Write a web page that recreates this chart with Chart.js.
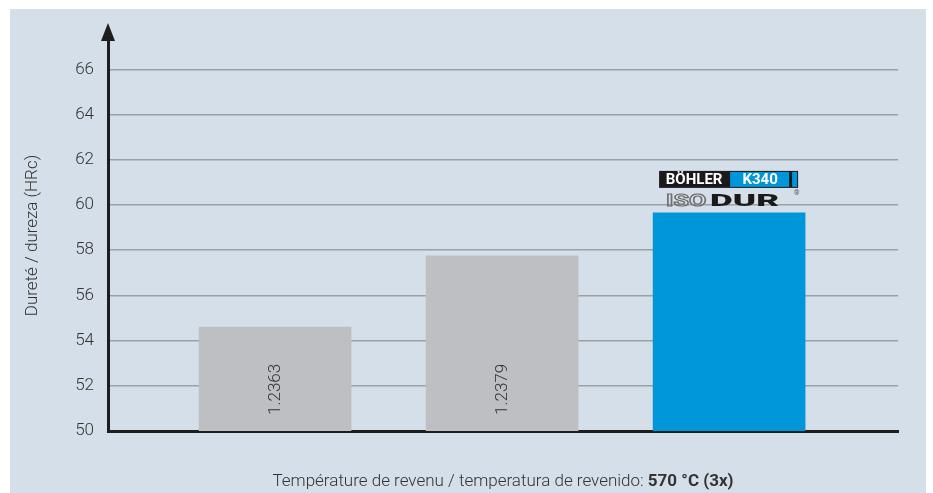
<!DOCTYPE html>
<html>
<head>
<meta charset="utf-8">
<script src="https://cdn.jsdelivr.net/npm/chart.js@4"></script>
<style>
  html, body { margin: 0; padding: 0; background: #fff; }
  #panel { position: absolute; left: 10px; top: 9px; width: 916px; height: 484px; background: #d5dfe9; }
</style>
</head>
<body>
<div id="panel"><canvas id="haerteChart" width="916" height="484"></canvas></div>
<script>
const steels = ["1.2363", "1.2379", "K340 ISODUR"];
const hardness = [54.6, 57.75, 59.65];
const barColors = ["#bebfc3", "#bebfc3", "#0096da"];
const yTicks = [50, 52, 54, 56, 58, 60, 62, 64, 66];
const yTitle = "Dureté / dureza (HRc)";
const xTitle = "Température de revenu / temperatura de revenido: ";
const xTitleBold = "570 °C (3x)";

const FONT = "Roboto";

// extra drawing: axis arrow, labels inside bars, logo, axis titles
const extras = {
  id: "extras",
  afterDraw(chart) {
    const { ctx, chartArea: a, scales: { x, y } } = chart;
    ctx.save();

    // arrow head on the y axis
    ctx.fillStyle = "#1e1e1e";
    ctx.beginPath();
    ctx.moveTo(a.left, a.top - 17);
    ctx.lineTo(a.left - 7, a.top + 1);
    ctx.lineTo(a.left + 7, a.top + 1);
    ctx.closePath();
    ctx.fill();

    // steel numbers inside the grey bars
    const base = y.getPixelForValue(50);
    ctx.fillStyle = "#333";
    ctx.font = "300 17px " + FONT;
    ctx.textAlign = "left";
    ctx.textBaseline = "middle";
    for (let i = 0; i < 2; i++) {
      ctx.save();
      ctx.translate(x.getPixelForValue(i + 1), base - 16);
      ctx.rotate(-Math.PI / 2);
      ctx.fillText(steels[i], 0, 1);
      ctx.restore();
    }

    // BÖHLER K340 / ISODUR logo over the blue bar
    const cx = x.getPixelForValue(3);
    const bt = y.getPixelForValue(hardness[2]);
    ctx.fillStyle = "#1a1a1a";
    ctx.fillRect(cx - 70, bt - 42, 139, 17);
    ctx.fillStyle = "#0096da";
    ctx.fillRect(cx + 1, bt - 41, 59, 15);
    ctx.fillRect(cx + 63, bt - 41, 5, 15);
    ctx.fillStyle = "#fff";
    ctx.font = "bold 15px " + FONT;
    ctx.textAlign = "center";
    ctx.fillText("BÖHLER", cx - 35, bt - 33);
    ctx.fillText("K340", cx + 31, bt - 33);

    ctx.textAlign = "left";
    ctx.textBaseline = "alphabetic";
    ctx.font = "bold 18px " + FONT;
    ctx.save();
    ctx.translate(cx - 63, bt - 7);
    ctx.scale(1.4, 0.95);
    ctx.strokeStyle = "#6e6e6e";
    ctx.lineWidth = 1.2;
    ctx.strokeText("ISO", 0, 0);
    ctx.restore();
    ctx.save();
    ctx.translate(cx - 19, bt - 7);
    ctx.font = "900 18px " + FONT;
    ctx.scale(1.95, 0.95);
    ctx.fillStyle = "#1a1a1a";
    ctx.fillText("DUR", 0, 0);
    ctx.restore();
    ctx.font = "7px " + FONT;
    ctx.fillStyle = "#555";
    ctx.fillText("®", cx + 65, bt - 18);

    // y axis title
    ctx.save();
    ctx.translate(23, (a.top + a.bottom) / 2);
    ctx.rotate(-Math.PI / 2);
    ctx.font = "300 17px " + FONT;
    ctx.fillStyle = "#333";
    ctx.textAlign = "center";
    ctx.textBaseline = "middle";
    ctx.fillText(yTitle, 0, 0);
    ctx.restore();

    // x axis title, last part bold
    ctx.textBaseline = "middle";
    ctx.fillStyle = "#333";
    ctx.font = "300 17px " + FONT;
    const w1 = ctx.measureText(xTitle).width;
    ctx.font = "bold 17px " + FONT;
    const w2 = ctx.measureText(xTitleBold).width;
    let tx = (a.left + a.right) / 2 - (w1 + w2) / 2;
    ctx.font = "300 17px " + FONT;
    ctx.fillText(xTitle, tx, 473);
    ctx.font = "bold 17px " + FONT;
    ctx.fillText(xTitleBold, tx + w1, 473);

    ctx.restore();
  }
};

new Chart(document.getElementById("haerteChart").getContext("2d"), {
  type: "bar",
  data: {
    labels: steels,
    datasets: [{
      data: hardness.map((v, i) => ({ x: i + 1, y: v })),
      backgroundColor: barColors,
      barThickness: 152,
      borderWidth: 0
    }]
  },
  options: {
    responsive: false,
    animation: false,
    layout: { padding: { top: 31, right: 28, bottom: 62, left: 0 } },
    plugins: { legend: { display: false }, tooltip: { enabled: false } },
    scales: {
      x: {
        type: "linear",
        offset: false,
        min: 0.264,
        max: 3.744,
        ticks: { display: false },
        grid: { display: false },
        border: { color: "#1e1e1e", width: 3 },
        afterFit: s => { s.height = 0; }
      },
      y: {
        min: 50,
        max: 67.3,
        afterBuildTicks: s => { s.ticks = yTicks.map(v => ({ value: v })); },
        grid: { color: "#9aa0a5", lineWidth: 1.5, drawTicks: false },
        border: { color: "#1e1e1e", width: 3 },
        ticks: { padding: 14, color: "#333", font: { family: FONT, size: 17, weight: 300 } },
        afterFit: s => { s.width = 98; }
      }
    }
  },
  plugins: [extras]
});
</script>
</body>
</html>
